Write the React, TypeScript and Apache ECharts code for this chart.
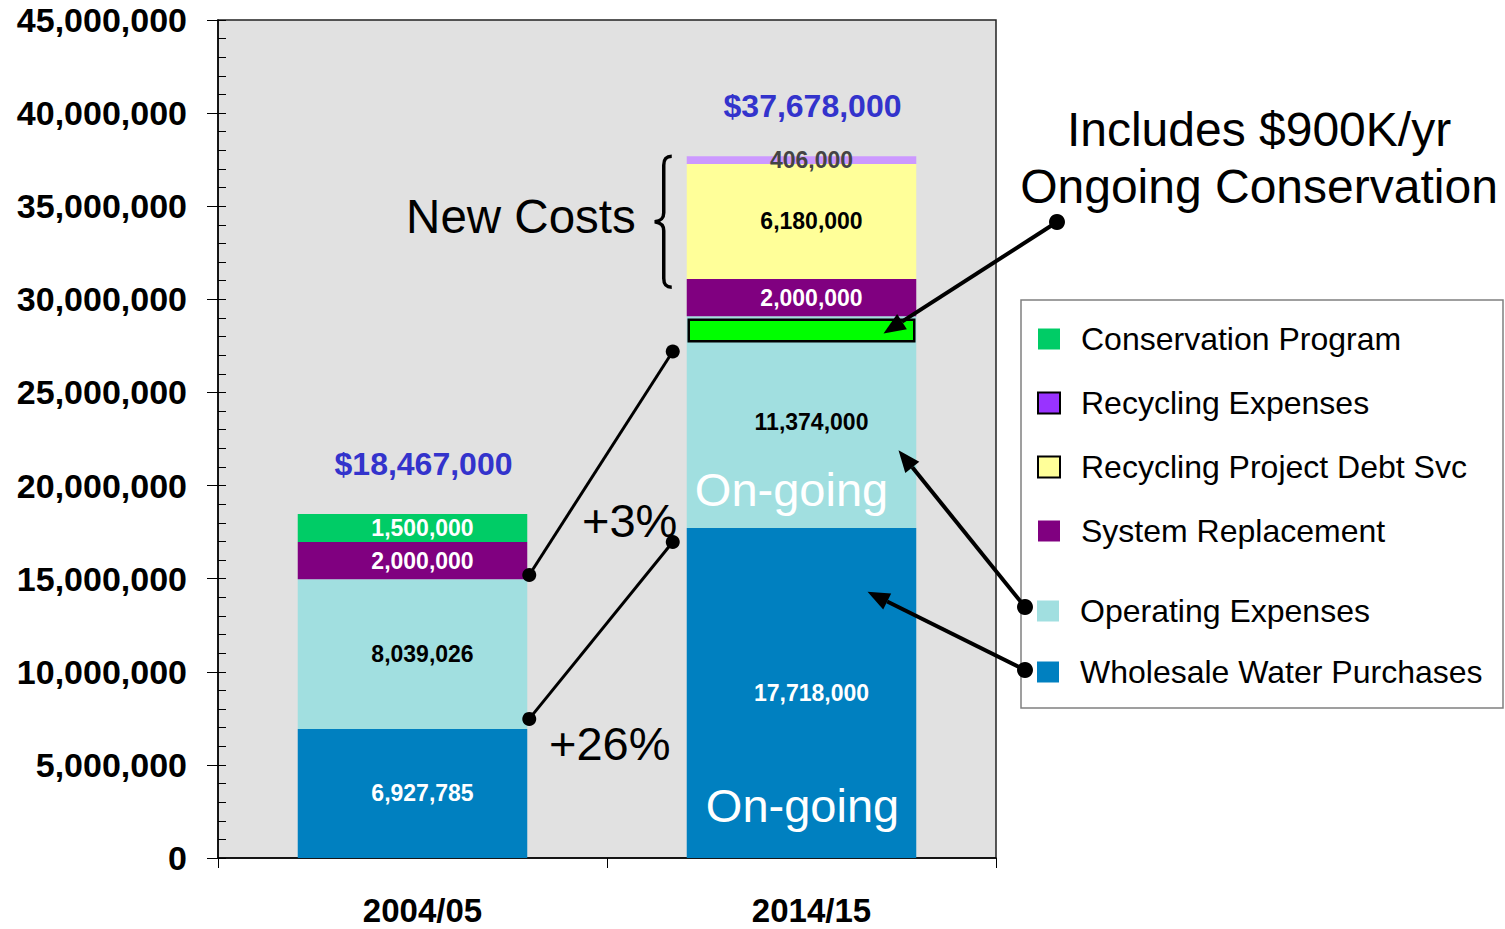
import React, { useEffect, useRef } from "react";
import * as echarts from "echarts";

// ---------- data ----------
const categories = ["2004/05", "2014/15"];
const wholesaleWater = [6927785, 17718000];
const operatingExpenses = [8039026, 11374000];
const systemReplacement = [2000000, 2000000];
const conservationProgram = [1500000, null];
const recyclingDebtSvc = [null, 6180000];
const recyclingExpenses = [null, 406000];
const yMin = 0;
const yMax = 45000000;
const yInterval = 5000000;

// annotation values
const ongoingConservationBand = [27750000, 28900000];
const growthLinks = [
  { from: 15200000, to: 27200000, label: "+3%" },
  { from: 7470000, to: 16970000, label: "+26%" },
];
const newCostsBraceBottom = 30650000;

const FONT = '"Liberation Sans", Arial, Helvetica, sans-serif';

const seriesDefs = [
  { name: "Wholesale Water Purchases", data: wholesaleWater, color: "#0080c0", labelColor: "#ffffff" },
  { name: "Operating Expenses", data: operatingExpenses, color: "#a1dfe0", labelColor: "#000000" },
  { name: "System Replacement", data: systemReplacement, color: "#800080", labelColor: "#ffffff" },
  { name: "Conservation Program", data: conservationProgram, color: "#00cc66", labelColor: "#ffffff" },
  { name: "Recycling Project Debt Svc", data: recyclingDebtSvc, color: "#ffff99", labelColor: "#000000" },
  { name: "Recycling Expenses", data: recyclingExpenses, color: "#cc99ff", labelColor: "#444444" },
];

const legendTop = [
  { name: "Conservation Program" },
  { name: "Recycling Expenses", itemStyle: { color: "#9933ff", borderColor: "#000", borderWidth: 2 } },
  { name: "Recycling Project Debt Svc", itemStyle: { color: "#ffff99", borderColor: "#000", borderWidth: 2 } },
  { name: "System Replacement" },
];
const legendBottom = [{ name: "Operating Expenses" }, { name: "Wholesale Water Purchases" }];

const BAR_RATIO = 0.59;

echarts.graphic.registerShape(
  "brace",
  echarts.graphic.extendPath(
    "M17 0 C11 0 9 3 9 9 L9 57 C9 63 6 65 0 66 C6 67 9 69 9 75 L9 123 C9 129 11 132 17 132",
    {}
  )
);

const fmt = (v: number) => v.toLocaleString("en-US");

function legendCfg(top: number, gap: number, data: any[]) {
  return {
    orient: "vertical",
    left: 1032,
    top,
    icon: "rect",
    itemWidth: 22,
    itemHeight: 21,
    itemGap: gap,
    selectedMode: false,
    textStyle: { fontFamily: FONT, fontSize: 32, color: "#000", padding: [0, 0, 0, 16] },
    data,
  };
}

function buildOption(): any {
  return {
    animation: false,
    backgroundColor: "#ffffff",
    grid: {
      left: 218,
      right: 509,
      top: 20,
      bottom: 71,
      show: true,
      backgroundColor: "#e1e1e1",
      borderColor: "#222",
      borderWidth: 1.5,
    },
    legend: [legendCfg(318, 32, legendTop), legendCfg(590, 29, legendBottom)],
    xAxis: {
      type: "category",
      data: categories,
      axisLine: { lineStyle: { color: "#000", width: 1.5 } },
      axisTick: { show: true, length: 10, alignWithLabel: false, lineStyle: { color: "#000" } },
      axisLabel: {
        fontFamily: FONT,
        fontSize: 33,
        fontWeight: "bold",
        color: "#000",
        margin: 36,
        padding: [0, 0, 0, 20],
      },
    },
    yAxis: [
      {
        type: "value",
        position: "left",
        min: yMin,
        max: yMax,
        interval: yInterval,
        axisLine: { show: true, lineStyle: { color: "#000", width: 1.5 } },
        axisTick: { show: true, length: 11, lineStyle: { color: "#000" } },
        splitLine: { show: false },
        axisLabel: {
          fontFamily: FONT,
          fontSize: 34,
          fontWeight: "bold",
          color: "#000",
          margin: 31,
          padding: [5, 0, 0, 0],
          formatter: (v: number) => fmt(v),
        },
      },
      {
        type: "value",
        position: "left",
        min: yMin,
        max: yMax,
        interval: yInterval,
        axisLine: { show: false },
        splitLine: { show: false },
        axisLabel: { show: false },
        axisTick: { show: true, inside: true, length: 8, lineStyle: { color: "#000" } },
        minorTick: { show: true, splitNumber: 5, length: 8, lineStyle: { color: "#000", width: 1 } },
      },
    ],
    series: seriesDefs.map((s) => ({
      name: s.name,
      type: "bar",
      stack: "total",
      barWidth: BAR_RATIO * 100 + "%",
      data: s.data,
      itemStyle: { color: s.color },
      label: {
        show: true,
        position: "inside",
        offset: [10, 0],
        fontFamily: FONT,
        fontSize: 23,
        fontWeight: "bold",
        color: s.labelColor,
        formatter: (p: any) => (p.value == null ? "" : fmt(p.value)),
      },
    })),
  };
}

function arrow(x1: number, y1: number, x2: number, y2: number) {
  const headLen = 22;
  const headW = 18;
  const ang = Math.atan2(y2 - y1, x2 - x1);
  const bx = x2 - headLen * Math.cos(ang);
  const by = y2 - headLen * Math.sin(ang);
  const px = (-Math.sin(ang) * headW) / 2;
  const py = (Math.cos(ang) * headW) / 2;
  return [
    { type: "circle", shape: { cx: x1, cy: y1, r: 8 }, style: { fill: "#000" }, z: 100 },
    { type: "line", shape: { x1, y1, x2: bx, y2: by }, style: { stroke: "#000", lineWidth: 4 }, z: 100 },
    {
      type: "polygon",
      shape: { points: [[x2, y2], [bx + px, by + py], [bx - px, by - py]] },
      style: { fill: "#000" },
      z: 100,
    },
  ];
}

function text(x: number, y: number, t: string, size: number, opts: any = {}) {
  return {
    type: "text",
    x,
    y,
    z: 110,
    style: {
      text: t,
      fontFamily: FONT,
      fontSize: size,
      fontWeight: opts.bold ? "bold" : "normal",
      fill: opts.color || "#000",
      align: opts.align || "center",
      verticalAlign: "middle",
    },
  };
}

function buildGraphics(chart: any) {
  const px = (cat: number, v: number) => chart.convertToPixel({ gridIndex: 0 }, [cat, v]);
  const c0 = px(0, 0);
  const c1 = px(1, 0);
  const band = c1[0] - c0[0];
  const half = (band * BAR_RATIO) / 2;
  const x0 = c0[0];
  const x1 = c1[0];
  const els: any[] = [];

  // totals
  const sums = categories.map((_, i) =>
    seriesDefs.reduce((acc, s) => acc + ((s.data[i] as number) || 0), 0)
  );
  sums.forEach((sum, i) => {
    const p = px(i, sum);
    const rounded = Math.round(sum / 1000) * 1000;
    els.push(text(p[0] + 11, p[1] - 50, "$" + fmt(rounded), 32, { bold: true, color: "#3333cc" }));
  });

  // green ongoing-conservation box
  const bTop = px(1, ongoingConservationBand[1])[1];
  const bBot = px(1, ongoingConservationBand[0])[1];
  els.push({
    type: "rect",
    z: 100,
    shape: { x: x1 - half + 2, y: bTop, width: 2 * half - 4, height: bBot - bTop },
    style: { fill: "#00ff00", stroke: "#000", lineWidth: 2.5 },
  });

  // growth links
  growthLinks.forEach((g) => {
    const a = [x0 + half + 2, px(0, g.from)[1]];
    const b = [x1 - half - 14, px(1, g.to)[1]];
    els.push({ type: "line", z: 100, shape: { x1: a[0], y1: a[1], x2: b[0], y2: b[1] }, style: { stroke: "#000", lineWidth: 3 } });
    els.push({ type: "circle", z: 100, shape: { cx: a[0], cy: a[1], r: 7 }, style: { fill: "#000" } });
    els.push({ type: "circle", z: 100, shape: { cx: b[0], cy: b[1], r: 7 }, style: { fill: "#000" } });
  });
  const l0a = [x0 + half + 2, px(0, growthLinks[0].from)[1]];
  const l0b = [x1 - half - 14, px(1, growthLinks[0].to)[1]];
  els.push(text(582, (l0a[1] + l0b[1]) / 2 + 57, growthLinks[0].label, 47, { align: "left" }));
  const l1a = [x0 + half + 2, px(0, growthLinks[1].from)[1]];
  els.push(text(549, l1a[1] + 25, growthLinks[1].label, 47, { align: "left" }));

  // brace + New Costs
  const braceTop = px(1, sums[1])[1];
  const braceBot = px(1, newCostsBraceBottom)[1];
  const braceX = x1 - half - 32;
  els.push({
    type: "brace",
    z: 100,
    x: braceX,
    y: braceTop,
    scaleX: 1,
    scaleY: (braceBot - braceTop) / 132,
    style: { fill: "none", stroke: "#000", lineWidth: 3.5 },
  });
  els.push(text(braceX - 19, (braceTop + braceBot) / 2 - 5, "New Costs", 47.5, { align: "right" }));

  // On-going labels
  els.push(text(x1 - 10, px(1, 19800000)[1], "On-going", 47, { color: "#ffffff" }));
  els.push(text(x1 + 1, px(1, 2800000)[1], "On-going", 47, { color: "#ffffff" }));

  // Includes text
  els.push(text(1259, 129, "Includes $900K/yr", 48));
  els.push(text(1259, 186, "Ongoing Conservation", 48));

  // legend frame
  els.push({
    type: "rect",
    z: 1,
    shape: { x: 1021, y: 300, width: 482, height: 408 },
    style: { fill: "transparent", stroke: "#808080", lineWidth: 1.5 },
  });

  // arrows
  const boxMid = (bTop + bBot) / 2;
  els.push(...arrow(1057, 222, x1 + 82, boxMid + 3));
  els.push(...arrow(1025, 607, x1 + 97, px(1, 21900000)[1]));
  els.push(...arrow(1025, 670, x1 + 66, px(1, 14300000)[1]));

  return els;
}

export default function App() {
  const ref = useRef<HTMLDivElement>(null);
  useEffect(() => {
    document.body.style.margin = "0";
    const chart = echarts.init(ref.current!, null, { renderer: "svg" });
    chart.setOption(buildOption());
    chart.setOption({ graphic: buildGraphics(chart) });
    return () => chart.dispose();
  }, []);
  return <div ref={ref} style={{ width: 1505, height: 929 }} />;
}
